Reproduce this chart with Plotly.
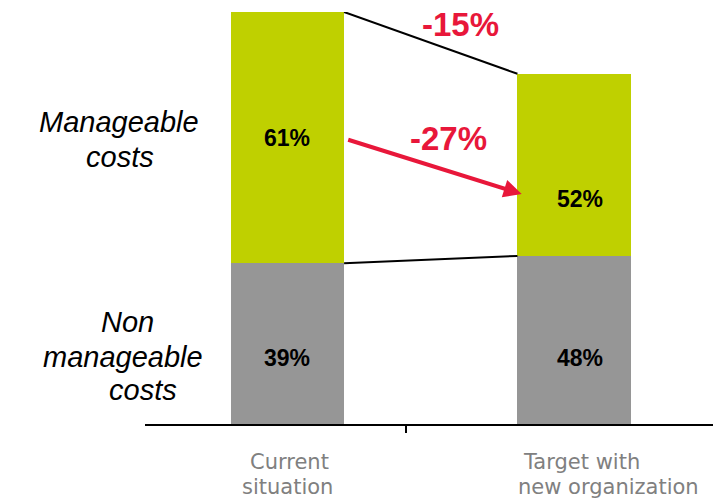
import plotly.graph_objects as go

# Cost structure: current vs. target organisation
categories = ["Current situation", "Target with new organization"]
cat_lines = [["Current", "situation"], ["Target with", "new organization"]]
totals = [100, 85]                 # total cost index (current = 100)
share_non_manageable = [39, 48]    # % of each bar
share_manageable = [61, 52]        # % of each bar
total_change = "-15%"
manageable_change = "-27%"

GREEN = "#BFD000"
GREY = "#969696"
RED = "#E8173A"
LABEL_GREY = "#808080"

W, H = 713, 503
L, T, B = 145, 12, 79
plot_w = W - L
plot_h = H - T - B
PX_PER_CAT = 286.5
X0 = -(287.5 - L) / PX_PER_CAT
X1 = X0 + plot_w / PX_PER_CAT
BAR_W = 0.395

non_vals = [t * s / 100 for t, s in zip(totals, share_non_manageable)]
man_vals = [t * s / 100 for t, s in zip(totals, share_manageable)]
xs = list(range(len(categories)))


def dx(px):
    return X0 + (px - L) / PX_PER_CAT


def dy(py):
    return (T + plot_h - py) / plot_h * 100


def pxp(px):
    return (px - L) / plot_w


def pyp(py):
    return (T + plot_h - py) / plot_h


fig = go.Figure()
fig.add_trace(go.Bar(x=xs, y=non_vals, width=BAR_W, marker=dict(color=GREY, line=dict(width=0)),
                     hoverinfo="skip"))
fig.add_trace(go.Bar(x=xs, y=man_vals, width=BAR_W, marker=dict(color=GREEN, line=dict(width=0)),
                     hoverinfo="skip"))

# connector lines between the two bars
half = BAR_W / 2
fig.add_shape(type="line", x0=xs[0] + half, y0=totals[0], x1=xs[1] - half, y1=totals[1],
              line=dict(color="black", width=2))
fig.add_shape(type="line", x0=xs[0] + half, y0=non_vals[0], x1=xs[1] - half, y1=non_vals[1],
              line=dict(color="black", width=2))

ann = []


def text_ann(txt, px, py, family="Liberation Sans, Arial", **font):
    ann.append(dict(xref="paper", yref="paper", x=pxp(px), y=pyp(py), text=txt,
                    showarrow=False, xanchor="center", yanchor="middle",
                    font=dict(family=family, **font)))


# segment labels
seg_pos = [((287, 138), (287, 358)), ((580, 199), (580, 358))]
for i in xs:
    (gx, gy), (nx, ny) = seg_pos[i]
    text_ann(f"{share_manageable[i]}%", gx, gy, size=23, color="black", weight="bold")
    text_ann(f"{share_non_manageable[i]}%", nx, ny, size=23, color="black", weight="bold")

# change call-outs
text_ann(total_change, 460, 25, size=33, color=RED, weight="bold")
text_ann(manageable_change, 448, 138, size=33, color=RED, weight="bold")
ann.append(dict(x=dx(521.7), y=dy(194), ax=dx(346.7), ay=dy(139.3), axref="x", ayref="y",
                text="", showarrow=True, arrowhead=2, arrowsize=0.9, arrowwidth=4,
                arrowcolor=RED, standoff=0, startstandoff=0))

# side labels
side = [("Manageable", 119, 122), ("costs", 120, 157),
        ("Non", 127, 322), ("manageable", 123, 357), ("costs", 143, 390)]
for txt, px, py in side:
    text_ann(txt, px, py, size=29, color="black", style="italic")

# category labels
cat_pos = [((289, 462), (287, 487)), ((581, 462), (608, 487))]
for i in xs:
    for line, (px, py) in zip(cat_lines[i], cat_pos[i]):
        text_ann(line, px, py, family="DejaVu Sans", size=21, color=LABEL_GREY)

fig.update_layout(
    width=W, height=H,
    margin=dict(l=L, r=0, t=T, b=B, pad=0),
    paper_bgcolor="white", plot_bgcolor="white",
    barmode="stack", bargap=0, showlegend=False,
    annotations=ann,
    xaxis=dict(range=[X0, X1], showline=True, linecolor="black", linewidth=1.5,
               tickvals=[dx(406)], ticktext=[""], ticks="outside", ticklen=7,
               tickcolor="black", tickwidth=1.5, showgrid=False, zeroline=False,
               fixedrange=True),
    yaxis=dict(range=[0, 100], visible=False, showgrid=False, zeroline=False, fixedrange=True),
)

fig.write_html("out.html", config={"displayModeBar": False})
